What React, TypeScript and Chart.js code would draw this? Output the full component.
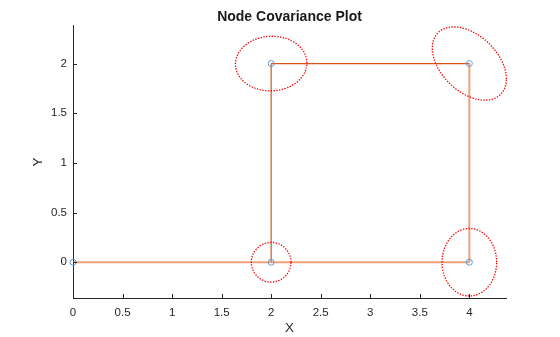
import React, { useEffect, useRef } from "react";
import { Chart, registerables } from "chart.js";

Chart.register(...registerables);

// Node positions
const nodeX = [0, 2, 2, 4, 4];
const nodeY = [0, 0, 2, 2, 0];

// Edges (pairs of node indices) and their shade (1 = dark, 0 = light)
const edgeFrom = [0, 1, 1, 2, 3];
const edgeTo = [1, 4, 2, 3, 4];
const edgeDark = [0, 0, 1, 1, 0];

// Node covariances (var x, var y, cov xy)
const covXX = [0, 0.04, 0.13, 0.14, 0.076];
const covYY = [0, 0.04, 0.0756, 0.136, 0.1156];
const covXY = [0, 0, 0.002, -0.058, 0];

const xTicks = [0, 0.5, 1, 1.5, 2, 2.5, 3, 3.5, 4];
const yTicks = [0, 0.5, 1, 1.5, 2];

const FONT = "'Liberation Sans', Arial, Helvetica, sans-serif";
const AXIS_COLOR = "#262626";

function ellipsePoints(i: number) {
  const sxx = covXX[i];
  const syy = covYY[i];
  const sxy = covXY[i];
  if (sxx <= 0 || syy <= 0) return [];
  const l11 = Math.sqrt(sxx);
  const l21 = sxy / l11;
  const l22 = Math.sqrt(Math.max(syy - l21 * l21, 0));
  const pts: { x: number; y: number }[] = [];
  const n = 120;
  for (let k = 0; k <= n; k++) {
    const t = (2 * Math.PI * k) / n;
    const c = Math.cos(t);
    const s = Math.sin(t);
    pts.push({ x: nodeX[i] + l11 * c, y: nodeY[i] + l21 * c + l22 * s });
  }
  return pts;
}

const inwardTicks = {
  id: "inwardTicks",
  afterDraw(chart: any) {
    const ctx = chart.ctx;
    const xs = chart.scales.x;
    const ys = chart.scales.y;
    const area = chart.chartArea;
    ctx.save();
    ctx.strokeStyle = AXIS_COLOR;
    ctx.lineWidth = 1;
    ctx.beginPath();
    for (const v of xTicks) {
      const px = Math.round(xs.getPixelForValue(v)) + 0.5;
      ctx.moveTo(px, area.bottom);
      ctx.lineTo(px, area.bottom - 4);
    }
    for (const v of yTicks) {
      const py = Math.round(ys.getPixelForValue(v)) + 0.5;
      ctx.moveTo(area.left, py);
      ctx.lineTo(area.left + 4, py);
    }
    ctx.stroke();
    ctx.restore();
  },
};

export default function App() {
  const ref = useRef<HTMLCanvasElement | null>(null);

  useEffect(() => {
    if (!ref.current) return;
    const datasets: any[] = [];
    edgeFrom.forEach((a, k) => {
      const b = edgeTo[k];
      const dark = edgeDark[k] === 1;
      datasets.push({
        type: "scatter",
        data: [
          { x: nodeX[a], y: nodeY[a] },
          { x: nodeX[b], y: nodeY[b] },
        ],
        showLine: true,
        borderColor: dark ? "#D95319" : "rgba(232,130,80,0.75)",
        borderWidth: dark ? 1.2 : 2,
        pointRadius: 0,
        order: 3,
      });
    });
    nodeX.forEach((_, i) => {
      const pts = ellipsePoints(i);
      if (!pts.length) return;
      datasets.push({
        type: "scatter",
        data: pts,
        showLine: true,
        borderColor: "#FF0000",
        borderWidth: 1.3,
        borderDash: [1.4, 1.4],
        pointRadius: 0,
        clip: false,
        order: 2,
      });
    });
    datasets.push({
      type: "scatter",
      data: nodeX.map((x, i) => ({ x, y: nodeY[i] })),
      pointStyle: "circle",
      pointRadius: 3,
      pointBorderColor: "#5B9BD5",
      pointBackgroundColor: "rgba(0,0,0,0)",
      pointBorderWidth: 1,
      showLine: false,
      clip: false,
      order: 1,
    });

    const chart = new Chart(ref.current, {
      type: "scatter",
      data: { datasets },
      plugins: [inwardTicks],
      options: {
        animation: false,
        responsive: false,
        layout: { padding: { left: 0, right: 54, top: 0, bottom: 0 } },
        plugins: {
          legend: { display: false },
          tooltip: { enabled: false },
          title: {
            display: true,
            text: "Node Covariance Plot",
            fullSize: false,
            color: "#1a1a1a",
            font: { family: FONT, size: 14, weight: "bold" },
            padding: { top: 9, bottom: 0 },
          },
        },
        scales: {
          x: {
            type: "linear",
            min: 0,
            max: 4.37,
            afterBuildTicks: (s: any) => {
              s.ticks = xTicks.map((v) => ({ value: v }));
            },
            afterFit: (s: any) => {
              s.height = 39;
            },
            ticks: {
              color: AXIS_COLOR,
              font: { family: FONT, size: 11.5 },
              padding: 8,
              maxRotation: 0,
              autoSkip: false,
              callback: (v: any) => String(v),
            },
            grid: { display: true, drawOnChartArea: false, drawTicks: false },
            border: { display: true, color: AXIS_COLOR, width: 1 },
            title: {
              display: true,
              text: "X",
              color: AXIS_COLOR,
              font: { family: FONT, size: 13.5 },
              padding: { top: 1, bottom: 1 },
            },
          },
          y: {
            type: "linear",
            min: -0.36,
            max: 2.38,
            afterBuildTicks: (s: any) => {
              s.ticks = yTicks.map((v) => ({ value: v }));
            },
            afterFit: (s: any) => {
              s.width = 73;
            },
            ticks: {
              color: AXIS_COLOR,
              font: { family: FONT, size: 11.5 },
              padding: 6,
              autoSkip: false,
              callback: (v: any) => String(v),
            },
            grid: { display: true, drawOnChartArea: false, drawTicks: false },
            border: { display: true, color: AXIS_COLOR, width: 1 },
            title: {
              display: true,
              text: "Y",
              color: AXIS_COLOR,
              font: { family: FONT, size: 13.5 },
              padding: { top: 30, bottom: 30 },
            },
          },
        },
      } as any,
    });
    return () => chart.destroy();
  }, []);

  return (
    <div style={{ position: "absolute", left: 0, top: 0, width: 560, height: 337, background: "#fff" }}>
      <canvas ref={ref} width={560} height={337} style={{ display: "block" }} />
    </div>
  );
}
